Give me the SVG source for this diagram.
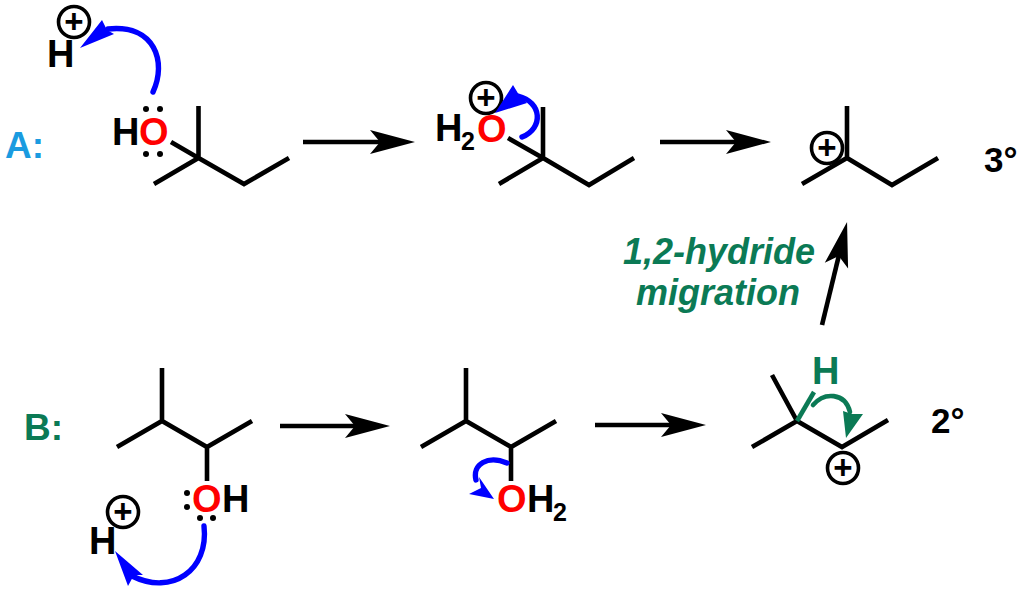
<svg xmlns="http://www.w3.org/2000/svg" width="1024" height="594" viewBox="0 0 1024 594">
<style>
text{font-family:"Liberation Sans",Arial,sans-serif;font-weight:700}
.b{fill:none;stroke:#000;stroke-width:4.6;stroke-linecap:butt;stroke-linejoin:miter}
.a{fill:#000;font-size:38px}
.o{fill:#f00;font-size:38px}
.s{fill:#000;font-size:25px}
.c{fill:#fff;stroke:#000;stroke-width:3.6}
.p{fill:#000;font-size:33px;text-anchor:middle}
.d{fill:#000}
.r{fill:none;stroke:#000;stroke-width:4.6}
.cb{fill:none;stroke:#00f;stroke-width:5.4;stroke-linecap:round}
.hb{fill:#00f}
.cg{fill:none;stroke:#0b7a55;stroke-width:4.6;stroke-linecap:round}
.hg{fill:#0b7a55}
.g{fill:#0b7a55}
.m{fill:#0b7a55;font-size:36px;font-style:italic;text-anchor:middle}
</style>
<defs>
<marker id="head" markerUnits="userSpaceOnUse" markerWidth="50" markerHeight="28" viewBox="-15 -14 50 28" refX="0" refY="0" orient="auto">
<path d="M-13-12 L32 0 L-13 12 L-3 0Z" fill="#000"/>
</marker>
</defs>

<g id="label-A"><text x="5" y="158" font-size="37" fill="#1a9be0">A:</text></g>
<g id="label-B"><text x="24" y="440" font-size="37" fill="#0b7a55">B:</text></g>
<g id="label-migration">
<text class="m" x="719" y="264">1,2-hydride</text>
<text class="m" x="718" y="305">migration</text>
</g>
<g id="label-3deg"><text x="984" y="172" font-size="35">3°</text></g>
<g id="label-2deg"><text x="931" y="433" font-size="35">2°</text></g>

<g id="proton-a">
<circle class="c" cx="74" cy="22" r="15.500"/><text class="p" x="74" y="33">+</text>
<text class="a" x="47" y="67">H</text>
</g>

<g id="mol-a1">
<path class="b" d="M198.500 106V158M171 142L198.500 158M154 184L198.500 158L244 184L289 158"/>
<text class="a" x="112" y="145">H</text><text class="o" x="139" y="145">O</text>
<circle class="d" cx="146" cy="109" r="3"/><circle class="d" cx="160" cy="109" r="3"/>
<circle class="d" cx="146" cy="154" r="3"/><circle class="d" cx="160" cy="154" r="3"/>
</g>

<g id="mol-a2">
<path class="b" d="M543 107V158M508 138L543 158M499 184L543 158L589 185L634 158"/>
<text class="a" x="435" y="141">H</text><text class="s" x="461" y="150">2</text><text class="o" x="477" y="142">O</text>
<circle class="c" cx="486" cy="98" r="15.500"/><text class="p" x="486" y="109">+</text>
</g>

<g id="mol-a3">
<path class="b" d="M847 106V158M802 184L847 158L892 185L938 158"/>
<circle class="c" cx="827" cy="148" r="15.500"/><text class="p" x="827" y="159">+</text>
</g>

<g id="mol-b1">
<path class="b" d="M162 368V421M117 447L162 421L207 447L252 421M207 447V481"/>
<text class="o" x="192" y="512">O</text><text class="a" x="222" y="512">H</text>
<circle class="d" cx="187" cy="493" r="3"/><circle class="d" cx="187" cy="507" r="3"/>
<circle class="d" cx="200" cy="518" r="3"/><circle class="d" cx="213" cy="518" r="3"/>
</g>

<g id="proton-b">
<circle class="c" cx="123" cy="512" r="15.500"/><text class="p" x="123" y="523">+</text>
<text class="a" x="89" y="554">H</text>
</g>

<g id="mol-b2">
<path class="b" d="M466 368V421M421 447L466 421L511 447L556 421M511 447V481"/>
<text class="o" x="497" y="512">O</text><text class="a" x="527" y="512">H</text><text class="s" x="553" y="521">2</text>
</g>

<g id="mol-b3">
<path class="b" d="M772 375L797 421M752 447L797 421L842 447L888 420"/>
<path d="M797 421L814 392" fill="none" stroke="#0b7a55" stroke-width="4.6"/>
<text x="812" y="384" font-size="38" class="g">H</text>
<circle class="c" cx="843" cy="468" r="15.500"/><text class="p" x="843" y="479">+</text>
</g>

<g id="connectors">
<path class="r" d="M303 142H383" marker-end="url(#head)"/>
<path class="r" d="M660 142H739" marker-end="url(#head)"/>
<path class="r" d="M280 426H358" marker-end="url(#head)"/>
<path class="r" d="M595 425H674" marker-end="url(#head)"/>
<path class="r" d="M822 325L839.500 253" marker-end="url(#head)"/>

<path class="cb" d="M153 92C167 62 155 24 108 29"/>
<path class="hb" d="M80 48L102 20L107 30L114 34Z"/>
<path class="cb" d="M522 137C544 128 542 102 518 96"/>
<path class="hb" d="M495 113L513 85L519 95L527 103Z"/>
<path class="cb" d="M204 526C209 570 172 596 132 576"/>
<path class="hb" d="M115 551L143 575L134 575L128 586Z"/>
<path class="cb" d="M507 463C488 455 472 464 476 480"/>
<path class="hb" d="M494 499L469 494L481 488L479 477Z"/>
<path class="cg" d="M813 405C824 392 845 392 850 412"/>
<path class="hg" d="M846 438L843 411L852 414L863 414Z"/>
</g>
</svg>
